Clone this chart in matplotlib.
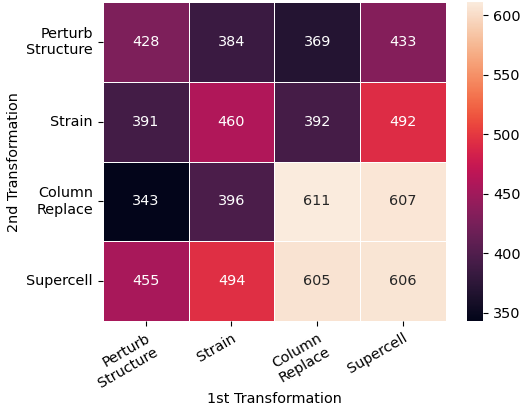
import numpy as np
import matplotlib
matplotlib.use("Agg")
import matplotlib.pyplot as plt
import seaborn as sns

first = ["Perturb\nStructure", "Strain", "Column\nReplace", "Supercell"]
second = ["Perturb\nStructure", "Strain", "Column\nReplace", "Supercell"]
values = np.array([
    [428, 384, 369, 433],
    [391, 460, 392, 492],
    [343, 396, 611, 607],
    [455, 494, 605, 606],
])

plt.rcParams["font.size"] = 10.4

fig = plt.figure(figsize=(5.22, 4.08), dpi=100)
ax = fig.add_axes([0.197, 0.213, 0.657, 0.782])
cax = fig.add_axes([0.895, 0.213, 0.031, 0.782])

sns.heatmap(values, annot=True, fmt="d", cmap="rocket", linewidths=0.5, linecolor="white",
            xticklabels=first, yticklabels=second, ax=ax, cbar_ax=cax,
            annot_kws={"size": 10.4})

ax.set_xlabel("1st Transformation", labelpad=1)
ax.set_ylabel("2nd Transformation")
plt.setp(ax.get_xticklabels(), rotation=30, ha="right", rotation_mode="anchor")
plt.setp(ax.get_yticklabels(), rotation=0)

fig.savefig("out.png", dpi=100)
